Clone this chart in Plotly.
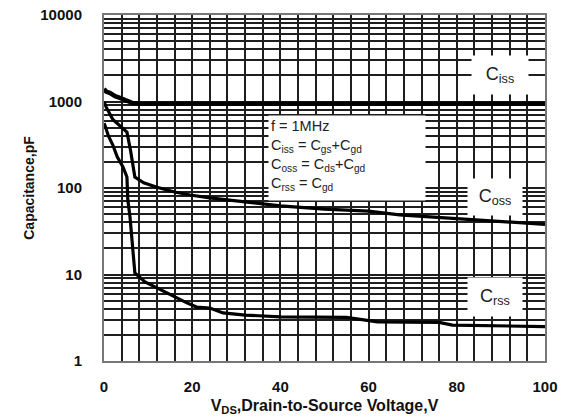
import plotly.graph_objects as go

# ---- data ----
ciss_v = [0, 0.5, 1.4, 2.5, 3.6, 4.5, 5.5, 6.5, 8, 20, 40, 60, 80, 100]
ciss_c = [1400, 1300, 1250, 1150, 1100, 1060, 1000, 960, 945, 940, 940, 940, 940, 940]

coss_v = [0, 0.5, 2, 3.5, 4.3, 5.2, 6, 7, 9, 12, 16, 19.5, 24, 30, 33, 40, 50, 60, 67, 75, 80, 90, 100]
coss_c = [1000, 860, 620, 530, 494, 444, 275, 134, 115, 102, 90, 83, 77, 71, 67, 62, 57, 54, 49, 46, 44, 41, 38]

crss_v = [0, 0.2, 1, 2, 3, 4.3, 5.2, 5.4, 5.9, 6.6, 7.0, 9.3, 12, 15, 18.8, 21, 24, 27, 32, 40, 55, 62, 67, 76, 79, 90, 100]
crss_c = [560, 535, 400, 314, 230, 175, 134, 73, 46, 19, 10.4, 8.2, 7.0, 5.8, 4.7, 4.2, 4.1, 3.6, 3.4, 3.23, 3.2, 2.83, 2.83, 2.8, 2.6, 2.55, 2.5]

x_ticks = [0, 20, 40, 60, 80, 100]
y_ticks = [1, 10, 100, 1000, 10000]
y_ticktext = ["1", "10", "100", "1000", "10000"]

FONT = "Liberation Sans, Arial, sans-serif"
GRID = "#1e1e1e"

fig = go.Figure()
fig.add_trace(go.Scatter(x=ciss_v, y=ciss_c, mode="lines",
                         line=dict(color="black", width=4.5), showlegend=False))
fig.add_trace(go.Scatter(x=coss_v, y=coss_c, mode="lines",
                         line=dict(color="black", width=3.2), showlegend=False))
fig.add_trace(go.Scatter(x=crss_v, y=crss_c, mode="lines",
                         line=dict(color="black", width=3.2), showlegend=False))

fig.update_layout(
    width=562, height=416,
    margin=dict(l=104, r=17, t=15, b=55),
    paper_bgcolor="white", plot_bgcolor="white",
    font=dict(family=FONT, color="black"),
    xaxis=dict(
        range=[0, 100], tickvals=x_ticks, showgrid=True, gridcolor=GRID, gridwidth=1.6,
        minor=dict(dtick=4, showgrid=True, gridcolor=GRID, gridwidth=1.6, ticks=""),
        showline=True, linecolor="#777", linewidth=2, mirror=True,
        ticks="", ticklabelstandoff=11, zeroline=False, automargin=False,
        tickfont=dict(size=15, family=FONT, weight="bold", color="#111"),
        title=dict(text="V<sub>DS</sub>,Drain-to-Source Voltage,V",
                   font=dict(size=16, family=FONT, weight="bold", color="#111"), standoff=6),
    ),
    yaxis=dict(
        type="log", range=[0, 4], tickvals=y_ticks, ticktext=y_ticktext,
        showgrid=True, gridcolor=GRID, gridwidth=1.6,
        minor=dict(dtick="D1", showgrid=True, gridcolor=GRID, gridwidth=1.6, ticks=""),
        showline=True, linecolor="#777", linewidth=2, mirror=True,
        ticks="", ticklabelstandoff=17, zeroline=False, automargin=False,
        tickfont=dict(size=15, family=FONT, weight="bold", color="#111"),
        title=dict(text="Capacitance,pF",
                   font=dict(size=14, family=FONT, weight="bold", color="#111"), standoff=2),
    ),
)

# curve labels (white boxes hide the grid, as in the reference)
for txt, xv, yv, w, h in [
    ("C<sub>iss</sub>", 89.8, 3.306, 54, 36),
    ("C<sub>oss</sub>", 88.7, 1.896, 52, 34),
    ("C<sub>rss</sub>", 88.7, 0.74, 52, 36),
]:
    fig.add_annotation(x=xv, y=yv, xref="x", yref="y", text=txt, showarrow=False,
                       font=dict(size=18, family=FONT, color="#222"),
                       bgcolor="white", width=w, height=h)

fig.add_annotation(
    x=37.2, y=2.844, xref="x", yref="y", xanchor="left", yanchor="top",
    text=("f = 1MHz<br>C<sub>iss</sub> = C<sub>gs</sub>+C<sub>gd</sub><br>"
          "C<sub>oss</sub> = C<sub>ds</sub>+C<sub>gd</sub><br>C<sub>rss</sub> = C<sub>gd</sub>"),
    showarrow=False, align="left", valign="top",
    font=dict(size=14.5, family=FONT, color="#222"),
    bgcolor="white", width=152, height=80, borderpad=2,
)

fig.write_html("out.html")
